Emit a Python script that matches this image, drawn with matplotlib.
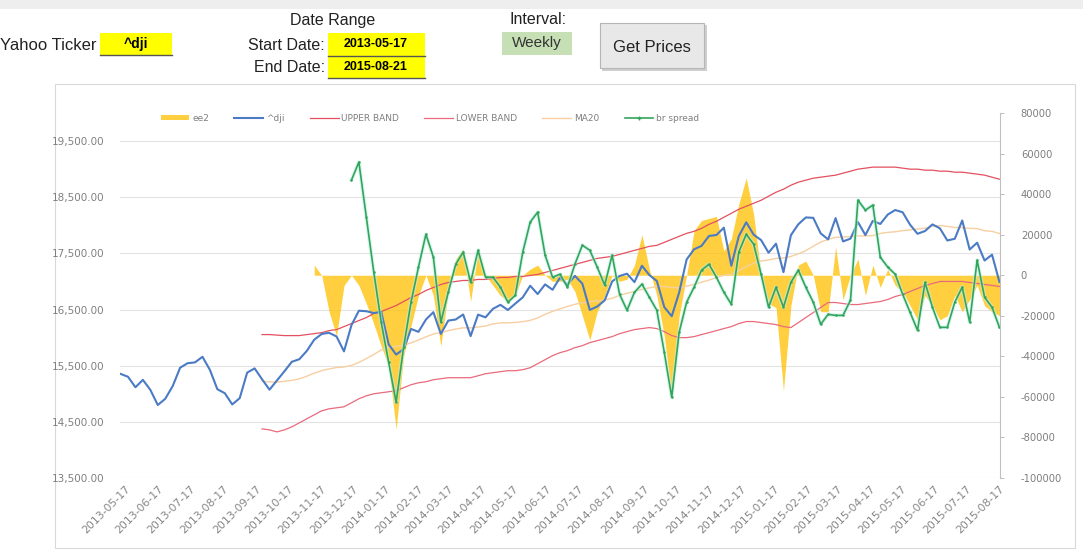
import matplotlib
matplotlib.use('Agg')
import matplotlib.pyplot as plt
import matplotlib.patches as mpatches
import matplotlib.dates as mdates
from matplotlib.lines import Line2D
from matplotlib.ticker import FuncFormatter, FixedLocator
import numpy as np
import pandas as pd

W, H = 1083, 551

# ---------------- data ----------------
dates = pd.date_range('2013-05-13', periods=119, freq='7D')

dji = [15354, 15303, 15116, 15248, 15070, 14800, 14910, 15136, 15464, 15544,
       15559, 15659, 15425, 15081, 15010, 14810, 14922, 15376, 15452, 15258,
       15073, 15237, 15400, 15570, 15615, 15762, 15962, 16065, 16086, 16020,
       15755, 16221, 16479, 16470, 16437, 16459, 15879, 15698, 15794, 16154,
       16103, 16322, 16453, 16066, 16303, 16323, 16412, 16027, 16409, 16361,
       16513, 16584, 16492, 16606, 16717, 16924, 16776, 16948, 16852, 17068,
       16944, 17100, 16961, 16493, 16554, 16663, 17001, 17098, 17138, 16988,
       17280, 17113, 17009, 16544, 16380, 16805, 17391, 17573, 17634, 17810,
       17828, 17958, 17280, 17805, 18054, 17833, 17737, 17512, 17673, 17165,
       17825, 18019, 18140, 18133, 17856, 17749, 18128, 17713, 17763, 18058,
       17826, 18080, 18024, 18191, 18272, 18232, 18011, 17849, 17898, 18016,
       17947, 17730, 17760, 18086, 17569, 17690, 17373, 17477, 16990]

band_start = 19
ma20_vals = [15225, 15211, 15208, 15222, 15238, 15265, 15313, 15366, 15412, 15443,
             15467, 15477, 15505, 15558, 15627, 15699, 15781, 15829, 15845, 15862,
             15907, 15958, 16013, 16065, 16090, 16124, 16152, 16175, 16173, 16189,
             16206, 16244, 16262, 16263, 16270, 16284, 16307, 16352, 16414, 16467,
             16513, 16555, 16594, 16619, 16641, 16653, 16670, 16700, 16753, 16790,
             16821, 16859, 16886, 16912, 16909, 16892, 16886, 16917, 16948, 16987,
             17024, 17068, 17111, 17127, 17193, 17268, 17326, 17363, 17384, 17410,
             17419, 17446, 17492, 17548, 17628, 17702, 17749, 17786, 17793, 17799,
             17811, 17811, 17817, 17855, 17874, 17885, 17905, 17919, 17935, 17947,
             17989, 17995, 17981, 17962, 17959, 17945, 17942, 17904, 17893, 17854]

upper_vals = [16054, 16054, 16045, 16036, 16036, 16036, 16054, 16071, 16089, 16125,
              16143, 16196, 16250, 16304, 16357, 16429, 16464, 16518, 16571, 16643,
              16714, 16768, 16839, 16893, 16946, 16982, 17000, 17018, 17018, 17036,
              17036, 17054, 17071, 17071, 17089, 17089, 17107, 17125, 17161, 17196,
              17232, 17268, 17304, 17339, 17375, 17411, 17429, 17446, 17482, 17518,
              17554, 17589, 17625, 17643, 17696, 17750, 17804, 17857, 17893, 17946,
              18018, 18071, 18143, 18214, 18286, 18339, 18393, 18446, 18518, 18589,
              18643, 18714, 18768, 18804, 18839, 18857, 18875, 18893, 18929, 18964,
              19000, 19018, 19036, 19036, 19036, 19036, 19018, 19000, 19000, 18982,
              18982, 18964, 18964, 18946, 18946, 18929, 18911, 18893, 18857, 18821]

lower_vals = [14375, 14357, 14321, 14357, 14411, 14482, 14554, 14625, 14696, 14732,
              14750, 14768, 14839, 14911, 14964, 15000, 15018, 15036, 15054, 15107,
              15161, 15196, 15214, 15250, 15268, 15286, 15286, 15286, 15286, 15321,
              15357, 15375, 15393, 15411, 15411, 15429, 15464, 15536, 15607, 15679,
              15732, 15768, 15821, 15857, 15911, 15946, 15982, 16018, 16071, 16107,
              16143, 16161, 16179, 16161, 16107, 16036, 16000, 16000, 16018, 16054,
              16089, 16125, 16161, 16196, 16250, 16286, 16286, 16268, 16250, 16232,
              16196, 16179, 16268, 16357, 16446, 16536, 16625, 16625, 16607, 16589,
              16589, 16607, 16625, 16643, 16679, 16732, 16768, 16821, 16875, 16929,
              16964, 17000, 17000, 17000, 17000, 16982, 16964, 16946, 16929, 16911]

ee2_start = 26
ee2_vals = [5000, 0, -18000, -30000, -5000, 0, -5000, -14000, -24000, -35000,
            -45000, -76000, -40000, -25000, -10000, 0, -10000, -35000, -8000, 8000,
            13000, -13000, 12000, 0, -5000, -10000, -13000, -10000, 0, 3000,
            5000, 0, -3000, -3000, -2000, -8000, -20000, -32000, -18000, -10000,
            0, -3000, -2000, 5000, 20000, 3000, -10000, -30000, -60000, -20000,
            0, 22000, 27000, 28000, 29000, 12000, 18000, 35000, 48000, 30000,
            0, -14000, -16000, -57000, -15000, 5000, 7000, 0, -18000, -18000,
            14000, -12000, 0, 8000, -10000, 5000, -6000, 3000, -5000, -8000,
            -15000, -22000, -10000, -15000, -22000, -20000, -10000, -18000, -12000, -5000,
            -15000, -18000, -20000]

spread_start = 31
spread_vals = [46900, 55800, 28600, 1500, -23200, -43000, -62700, -35600, -13300, 4000,
               20200, 8900, -23200, -8400, 5400, 11400, -3500, 12300, -1000, -1000,
               -5900, -13300, -9900, 11400, 26200, 31100, 9900, -1000, 500, -5900,
               5400, 14800, 12300, 4000, -4900, 9900, -9400, -17300, -8400, -4400,
               -10900, -17300, -38000, -60200, -28100, -13300, -5900, 2500, 5400, -1000,
               -8400, -14300, 11400, 20200, 15300, 500, -15800, -5900, -15800, -3500,
               2500, -5900, -13300, -24200, -19300, -19800, -19800, -12300, 37000, 32100,
               34600, 8900, 4000, 500, -9400, -18300, -27200, -3500, -15800, -25700,
               -25700, -13300, -5900, -23200, 7400, -10900, -15800, -25700]

left_ticks = [13500, 14500, 15500, 16500, 17500, 18500, 19500]
right_ticks = [-100000, -80000, -60000, -40000, -20000, 0, 20000, 40000, 60000, 80000]
month_ticks = pd.date_range('2013-05-17', '2015-08-17', freq=pd.DateOffset(months=1))

def pad(start, vals):
    return np.array([np.nan] * start + list(vals), dtype=float)

ma20 = pad(band_start, ma20_vals)
upper = pad(band_start, upper_vals)
lower = pad(band_start, lower_vals)
ee2 = pad(ee2_start, ee2_vals)
spread = pad(spread_start, spread_vals)

# ---------------- figure ----------------
fig = plt.figure(figsize=(W / 100, H / 100), dpi=100)
fig.patch.set_facecolor('white')

def fx(x): return x / W
def fy(y): return 1 - y / H

def rect(x0, y0, x1, y1, fc, ec='none', lw=0, z=0):
    fig.add_artist(mpatches.Rectangle((fx(x0), fy(y1)), (x1 - x0) / W, (y1 - y0) / H,
                                      transform=fig.transFigure, facecolor=fc,
                                      edgecolor=ec, linewidth=lw, zorder=z))

def hline(x0, x1, y, color, lw=1.0):
    fig.add_artist(Line2D([fx(x0), fx(x1)], [fy(y), fy(y)], transform=fig.transFigure,
                          color=color, linewidth=lw))

def txt(x, y, s, **kw):
    fig.text(fx(x), fy(y), s, **kw)

TF = ['Liberation Sans', 'DejaVu Sans']

# top strip
rect(0, 0, W, 9, '#EEEEEE')
# spreadsheet controls
txt(97, 45, 'Yahoo Ticker', family=TF, fontsize=12, ha='right', va='center', color='#222222')
rect(100, 33, 172, 55, '#FFFF00')
hline(100, 172, 55, '#555555', 1.0)
txt(136, 44, '^dji', family=TF, fontsize=10, fontweight='bold', ha='center', va='center')

txt(333, 20, 'Date Range', family=TF, fontsize=11.5, ha='center', va='center', color='#222222')
txt(325, 45, 'Start Date:', family=TF, fontsize=11.5, ha='right', va='center', color='#222222')
txt(325, 67, 'End Date:', family=TF, fontsize=11.5, ha='right', va='center', color='#222222')
rect(328, 33, 425, 56, '#FFFF00')
rect(328, 57, 425, 78, '#FFFF00')
hline(328, 425, 56, '#555555', 1.0)
hline(328, 425, 78, '#555555', 1.0)
txt(376, 44, '2013-05-17', family=TF, fontsize=9, fontweight='bold', ha='center', va='center')
txt(376, 67, '2015-08-21', family=TF, fontsize=9, fontweight='bold', ha='center', va='center')

txt(538, 20, 'Interval:', family=TF, fontsize=11.5, ha='center', va='center', color='#222222')
rect(502, 32, 572, 55, '#C6DFB4')
txt(537, 43, 'Weekly', family=TF, fontsize=11, ha='center', va='center', color='#333333')

rect(602, 25, 707, 71, '#CFCFCF')
rect(600, 23, 704, 68, '#E8E8E8', ec='#B5B5B5', lw=0.8)
txt(652, 47, 'Get Prices', family=TF, fontsize=12, ha='center', va='center', color='#222222')

# chart border
rect(55, 84, 1075, 548, 'white', ec='#D9D9D9', lw=0.8)

# ---------------- axes ----------------
pos = [fx(120), fy(478), 880 / W, 365 / H]
xmin = pd.Timestamp('2013-05-12 12:00')
xmax = pd.Timestamp('2015-08-17 12:00')

ax = fig.add_axes(pos)            # primary scale: gridlines and left labels
ax_area = fig.add_axes(pos, sharex=ax)   # secondary scale: ee2 area
ax_lines = fig.add_axes(pos, sharex=ax, sharey=ax)  # primary lines
ax2 = fig.add_axes(pos, sharex=ax)       # secondary: br spread + right labels
ax.set_zorder(1); ax_area.set_zorder(2); ax_lines.set_zorder(3); ax2.set_zorder(4)
for a in (ax_area, ax_lines, ax2):
    a.patch.set_visible(False)

ax.set_xlim(xmin, xmax)
ax.set_ylim(13500, 20000)
ax_area.set_ylim(-100000, 80000)
ax2.set_ylim(-100000, 80000)

# gridlines / left axis
ax.yaxis.set_major_locator(FixedLocator(left_ticks))
ax.yaxis.set_major_formatter(FuncFormatter(lambda v, p: f'{v:,.2f}'))
ax.grid(axis='y', color='#E3E3E3', linewidth=0.8)
ax.tick_params(axis='y', length=0, pad=11, labelsize=7.5, labelcolor='#7F7F7F')
for s in ax.spines.values():
    s.set_visible(False)
ax.xaxis.set_major_locator(FixedLocator(mdates.date2num(month_ticks)))
ax.xaxis.set_major_formatter(FuncFormatter(lambda v, p: mdates.num2date(v).strftime('%Y-%m-%d')))
ax.tick_params(axis='x', length=0, pad=4, labelsize=7.8, labelcolor='#858585')
for lab in ax.get_xticklabels():
    lab.set_rotation(45)
    lab.set_ha('right')
    lab.set_va('top')
    lab.set_rotation_mode('anchor')

ax_area.axis('off')
ax_lines.axis('off')

yellow = '#FFC000'
ax_area.fill_between(dates, 0, ee2, color=yellow, alpha=0.75, linewidth=0)

blue = '#4A7BC4'
red_u = '#E4505F'
red_l = '#E96A7C'
ma_col = '#F7CFA0'
green = '#33A55A'
ax_lines.plot(dates, ma20, color=ma_col, linewidth=1.0)
ax_lines.plot(dates, upper, color=red_u, linewidth=0.9)
ax_lines.plot(dates, lower, color=red_l, linewidth=0.9)
ax_lines.plot(dates, dji, color=blue, linewidth=1.5)

ax2.plot(dates, spread, color='#BFF0E6', linewidth=2.8, alpha=0.6, solid_capstyle='round')
ax2.plot(dates, spread, color=green, linewidth=1.2, marker='o', markersize=0.8)

ax2.yaxis.set_label_position('right')
ax2.yaxis.tick_right()
ax2.yaxis.set_major_locator(FixedLocator(right_ticks))
ax2.yaxis.set_major_formatter(FuncFormatter(lambda v, p: f'{int(v)}'))
ax2.tick_params(axis='y', direction='out', length=3, width=0.7, color='#BFBFBF',
                pad=12, labelsize=7.2, labelcolor='#7F7F7F')
ax2.tick_params(axis='x', bottom=False, labelbottom=False)
for k, s in ax2.spines.items():
    s.set_visible(k == 'right')
ax2.spines['right'].set_color('#BFBFBF')
ax2.spines['right'].set_linewidth(0.8)

handles = [mpatches.Patch(facecolor=yellow, alpha=0.75, edgecolor='none'),
           Line2D([], [], color=blue, linewidth=1.5),
           Line2D([], [], color=red_u, linewidth=0.9),
           Line2D([], [], color=red_l, linewidth=0.9),
           Line2D([], [], color=ma_col, linewidth=1.0),
           Line2D([], [], color=green, linewidth=1.2, marker='+', markersize=3)]
labels = ['ee2', '^dji', 'UPPER BAND', 'LOWER BAND', 'MA20', 'br spread']
leg = ax2.legend(handles, labels, loc='center left', bbox_to_anchor=(0.042, 0.986),
                 ncol=6, frameon=False, fontsize=6.5, handlelength=3.2, handleheight=0.6,
                 columnspacing=2.8, handletextpad=0.3, borderaxespad=0)
for t in leg.get_texts():
    t.set_color('#7F7F7F')

fig.savefig('out.png', dpi=100)
